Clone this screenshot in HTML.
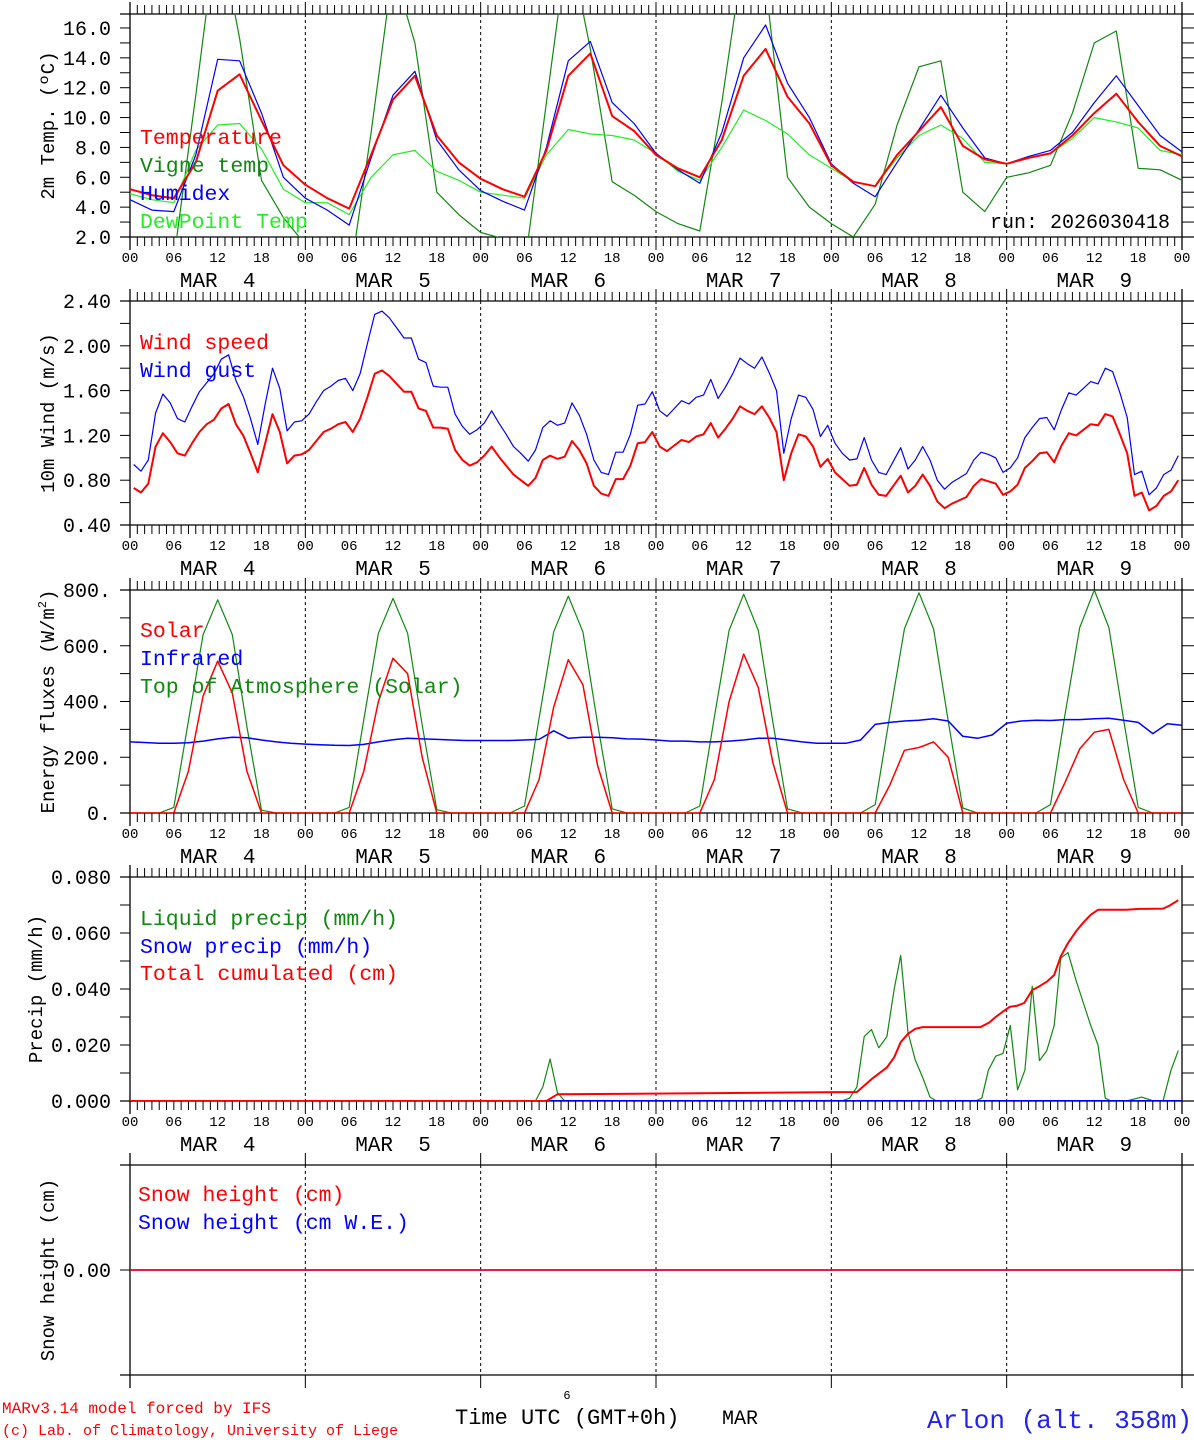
<!DOCTYPE html>
<html><head><meta charset="utf-8"><title>MAR meteogram Arlon</title>
<style>
html,body{margin:0;padding:0;background:#fff;}
svg{display:block;}
text{font-family:"Liberation Mono","DejaVu Sans Mono",monospace;}
</style></head>
<body>
<svg id="chart" xmlns="http://www.w3.org/2000/svg" width="1194" height="1440" viewBox="0 0 1194 1440">
<rect x="0" y="0" width="1194" height="1440" fill="#fff"/>
<g id="g"></g>
<text x="2" y="1413" fill="#ff0000" font-size="16">MARv3.14 model forced by IFS</text>
<text x="2" y="1435" fill="#ff0000" font-size="15">(c) Lab. of Climatology, University of Liege</text>
<text x="567" y="1399" font-size="12" text-anchor="middle">6</text>
<text x="455" y="1424" font-size="22" xml:space="preserve" style="white-space:pre">Time UTC (GMT+0h)</text>
<text x="722" y="1424" font-size="20">MAR</text>
<text x="927" y="1428" fill="#2222ee" font-size="26">Arlon (alt. 358m)</text>
</svg>
<script>
// ---------- DATA ----------
const tempHours = [0,3,6,9,12,15,18,21,24,27,30,33,36,39,42,45,48,51,54,57,60,63,66,69,72,75,78,81,84,87,90,93,96,99,102,105,108,111,114,117,120,123,126,129,132,135,138,141,144];
const temperature = [5.2,4.8,4.6,7.0,11.8,12.9,9.8,6.8, 5.5,4.6,3.9,7.5,11.2,12.8,8.8,7.0, 5.9,5.2,4.7,7.8,12.8,14.3,10.1,9.1, 7.5,6.6,6.0,8.5,12.8,14.6,11.4,9.6, 6.8,5.7,5.4,7.5,9.1,10.7,8.1,7.2, 6.9,7.3,7.6,8.8,10.3,11.6,9.7,8.1, 7.4];
const humidex = [4.5,3.8,3.7,7.5,13.9,13.8,10.3,6.0, 4.6,3.8,2.8,7.3,11.5,13.1,8.5,6.5, 5.1,4.4,3.8,8.0,13.8,15.1,11.0,9.6, 7.6,6.5,5.6,9.0,14.0,16.2,12.3,10.0, 6.9,5.6,4.7,7.0,9.2,11.5,9.3,7.3, 6.9,7.4,7.8,9.0,11.0,12.8,10.8,8.8, 7.7];
const vigneTemp = [-1,-1,0.5,11.5,23,15.3,5.8,3.3, 1.5,0,-1,9,20,15,5,3.5, 2.3,1.9,0,11,22,14.6,5.7,4.8, 3.7,2.9,2.4,11,21,19,6.0,4.0, 2.9,2.0,4.2,9.5,13.4,13.8,5.0,3.7, 6.0,6.3,6.8,10.3,15.0,15.8,6.6,6.5, 5.8];
const dewPoint = [4.9,4.5,4.3,7.8,9.5,9.6,7.9,5.2, 4.3,4.3,3.5,6.0,7.5,7.8,6.4,5.8, 5.0,4.8,4.6,7.5,9.2,8.9,8.8,8.5, 7.6,6.4,5.8,8.0,10.5,9.8,8.9,7.5, 6.6,5.7,5.4,7.3,8.8,9.5,8.6,7.0, 6.9,7.3,7.6,8.6,10.0,9.7,9.3,7.8, 7.5];

const windStartHour = 0.5;
const windSpeed = [0.73,0.69,0.77,1.10,1.22,1.14,1.04,1.02,1.13,1.23,1.30,1.34,1.44,1.48,1.30,1.20,1.04,0.87,1.13,1.39,1.23,0.95,1.02,1.03,
1.07,1.15,1.23,1.26,1.30,1.32,1.23,1.35,1.54,1.75,1.78,1.73,1.66,1.59,1.59,1.44,1.42,1.27,1.27,1.26,1.07,0.98,0.93,0.96,
1.02,1.10,1.01,0.93,0.85,0.80,0.75,0.82,0.98,1.02,0.99,1.01,1.15,1.07,0.95,0.75,0.68,0.66,0.81,0.81,0.93,1.13,1.14,1.23,
1.10,1.06,1.11,1.16,1.14,1.19,1.21,1.31,1.18,1.26,1.35,1.46,1.42,1.39,1.46,1.36,1.23,0.80,1.04,1.21,1.19,1.10,0.92,0.99,
0.87,0.81,0.75,0.76,0.91,0.76,0.67,0.66,0.75,0.84,0.69,0.75,0.85,0.75,0.61,0.55,0.59,0.62,0.65,0.75,0.81,0.79,0.77,0.67,
0.70,0.76,0.91,0.97,1.04,1.05,0.96,1.11,1.22,1.20,1.25,1.30,1.29,1.39,1.37,1.21,1.04,0.66,0.69,0.53,0.57,0.66,0.70,0.80];
const windGust = [0.94,0.88,0.98,1.40,1.57,1.49,1.35,1.32,1.46,1.59,1.67,1.75,1.88,1.92,1.69,1.55,1.35,1.12,1.48,1.80,1.62,1.24,1.32,1.33,
1.39,1.50,1.60,1.64,1.69,1.71,1.60,1.75,2.02,2.28,2.31,2.25,2.16,2.07,2.07,1.88,1.85,1.64,1.63,1.63,1.39,1.28,1.21,1.25,
1.31,1.42,1.31,1.21,1.10,1.04,0.97,1.07,1.27,1.33,1.29,1.31,1.49,1.38,1.21,0.98,0.87,0.85,1.05,1.05,1.21,1.47,1.48,1.59,
1.42,1.37,1.44,1.51,1.48,1.54,1.56,1.70,1.53,1.63,1.75,1.89,1.84,1.80,1.90,1.76,1.60,1.04,1.35,1.56,1.54,1.43,1.19,1.29,
1.13,1.04,0.98,0.99,1.18,0.98,0.87,0.85,0.97,1.09,0.90,0.98,1.10,0.98,0.80,0.72,0.78,0.82,0.86,0.98,1.05,1.03,1.00,0.87,
0.91,1.00,1.18,1.27,1.35,1.36,1.25,1.43,1.58,1.56,1.62,1.68,1.66,1.80,1.77,1.58,1.36,0.85,0.88,0.67,0.73,0.85,0.89,1.02];

const fluxStep = 2;
const solar = [0,0,0,0,150,420,545,430,150,0,0,0,
 0,0,0,0,150,400,555,500,200,0,0,0,
 0,0,0,0,120,380,550,460,170,0,0,0,
 0,0,0,0,120,400,570,450,180,0,0,0,
 0,0,0,0,0,0,0,0,0,0,0,0,
 0,0,0,0,0,0,0,0,0,0,0,0, 0];
const solarDay5 = [0,100,225,235,255,200,0];   // hours 102..114
const solarDay6 = [0,110,230,290,300,120,0];   // hours 126..138
const infrared = [255,253,250,250,252,258,266,272,270,262,255,250,
 247,245,243,242,246,255,263,268,266,264,262,260,
 260,260,260,262,264,295,268,272,272,270,266,265,
 262,258,258,255,255,258,262,268,268,262,255,250,
 250,250,262,318,325,330,333,338,330,275,268,280,
 322,330,333,332,335,335,338,340,333,325,285,320, 315];
const toaSolar = [0,0,0,20,330,640,765,640,310,10,0,0,
 0,0,0,20,335,645,770,645,315,12,0,0,
 0,0,0,25,340,650,778,650,320,15,0,0,
 0,0,0,25,345,655,785,655,325,15,0,0,
 0,0,0,30,350,660,790,660,330,18,0,0,
 0,0,0,30,355,665,800,665,335,20,0,0, 0];

const liqHours = [0,55.5,56.5,57.5,58.5,59.5,97.4,98.5,99.5,100.5,101.5,102.5,103.6,104.6,105.5,106.5,107.5,108.5,109.5,110.4,115.7,116.6,117.5,118.5,119.5,120.5,121.5,122.5,123.5,124.5,125.5,126.5,127.4,128.4,129.5,130.5,131.5,132.5,133.5,134.3,136.4,138.5,140.1,141.4,142.5,143.5];
const liqPrecip = [0,0,0.005,0.015,0.003,0,0,0.001,0.005,0.023,0.0255,0.019,0.023,0.040,0.052,0.0245,0.0146,0.0084,0.0014,0,0,0.001,0.011,0.016,0.017,0.027,0.004,0.011,0.041,0.0144,0.018,0.027,0.051,0.053,0.043,0.035,0.027,0.020,0.001,0,0,0.0014,0,0,0.011,0.018];
const snowHours = [0,144];
const snowPrecip = [0,0];
const cumHours = [0,57,58.5,99.5,101.5,103.6,104.6,105.5,106.5,107.5,108.5,116.4,117.6,118.5,119.4,120.4,121.4,122.4,123.5,124.5,125.5,126.5,127.4,128.4,129.5,130.5,131.5,132.5,136.4,138.2,141.4,142.3,143.5];
const cumPrecip = [0,0,0.0024,0.0032,0.0078,0.012,0.0156,0.021,0.024,0.0258,0.0264,0.0264,0.028,0.030,0.0318,0.0336,0.034,0.035,0.0396,0.041,0.0426,0.045,0.0516,0.0564,0.0606,0.0638,0.0665,0.0683,0.0683,0.0686,0.0687,0.0698,0.0717];
const snowHeight = [0,0];
const snowHeightWE = [0,0];

const dayLabels = ["MAR  4","MAR  5","MAR  6","MAR  7","MAR  8","MAR  9"];
const hourLabels = ["00","06","12","18"];
const ticks1 = [2,4,6,8,10,12,14,16], tickLab1 = ["2.0","4.0","6.0","8.0","10.0","12.0","14.0","16.0"];
const ticks2 = [0.4,0.8,1.2,1.6,2.0,2.4], tickLab2 = ["0.40","0.80","1.20","1.60","2.00","2.40"];
const ticks3 = [0,200,400,600,800], tickLab3 = ["0.","200.","400.","600.","800."];
const ticks4 = [0,0.02,0.04,0.06,0.08], tickLab4 = ["0.000","0.020","0.040","0.060","0.080"];
const ticks5 = [0], tickLab5 = ["0.00"];

// ---------- LAYOUT ----------
const NS="http://www.w3.org/2000/svg";
const G=document.getElementById('g');
const X0=130, X1=1182, HMAX=144;
function xh(h){return X0+(X1-X0)*h/HMAX;}
function mk(tag,attrs,parent){const e=document.createElementNS(NS,tag);for(const k in attrs)e.setAttribute(k,attrs[k]);(parent||G).appendChild(e);return e;}
function yv(p,v){return p.bottom-(v-p.vmin)/(p.vmax-p.vmin)*(p.bottom-p.top);}

const panels=[
 {id:'temp',top:14,bottom:237,vmin:2,vmax:2+223/14.93,minor:1,ticks:ticks1,labs:tickLab1,title:'2m Temp. (\u00baC)',tx:54,hours:true},
 {id:'wind',top:301,bottom:525,vmin:0.4,vmax:2.4,minor:0.2,ticks:ticks2,labs:tickLab2,title:'10m Wind (m/s)',tx:54,hours:true},
 {id:'flux',top:590,bottom:813,vmin:0,vmax:800,minor:100,ticks:ticks3,labs:tickLab3,title:'Energy fluxes (W/m',tx:54,hours:true,sup:true},
 {id:'precip',top:877,bottom:1101,vmin:0,vmax:0.08,minor:0.01,ticks:ticks4,labs:tickLab4,title:'Precip (mm/h)',tx:42,hours:true},
 {id:'snow',top:1165,bottom:1375,vmin:-1,vmax:1,minor:null,ticks:ticks5,labs:tickLab5,title:'Snow height (cm)',tx:54,hours:false}
];

panels.forEach((p,pi)=>{
 const g=mk('g',{});
 
 
 const cp=mk('clipPath',{id:'clip'+pi},g);
 mk('rect',{x:X0,y:p.top,width:X1-X0,height:p.bottom-p.top},cp);
 // day dashed lines
 for(let d=1;d<6;d++){
  const l=mk('line',{x1:xh(d*24),x2:xh(d*24),y1:p.top,y2:p.bottom,stroke:'#000','stroke-width':1,'stroke-dasharray':'3,3'},g);
  
  
 }
 // frame
 mk('line',{x1:120,x2:1194,y1:p.top,y2:p.top,stroke:'#000','stroke-width':1.3},g);
 mk('line',{x1:120,x2:1194,y1:p.bottom,y2:p.bottom,stroke:'#000','stroke-width':1.3},g);
 mk('line',{x1:X0,x2:X0,y1:p.top-12,y2:p.bottom+13,stroke:'#000','stroke-width':1.3},g);
 mk('line',{x1:X1,x2:X1,y1:p.top-12,y2:p.bottom+13,stroke:'#000','stroke-width':1.3},g);
 // x ticks
 for(let h=0;h<=HMAX;h++){
  const isDay=h%24===0;
  if(!p.hours && !isDay) continue;
  const x=xh(h);
  mk('line',{x1:x,x2:x,y1:p.top-(isDay?12:9),y2:p.top,stroke:'#000','stroke-width':1},g);
  mk('line',{x1:x,x2:x,y1:p.bottom,y2:p.bottom+(isDay?13:9),stroke:'#000','stroke-width':1},g);
 }
 // y ticks
 const tv=[];
 if(p.minor){for(let v=p.vmin;v<=p.vmax+1e-9;v+=p.minor)tv.push(v);} else tv.push(...p.ticks);
 tv.forEach(v=>{const y=yv(p,v);
  mk('line',{x1:120,x2:X0,y1:y,y2:y,stroke:'#000','stroke-width':1},g);
  mk('line',{x1:X1,x2:1194,y1:y,y2:y,stroke:'#000','stroke-width':1},g);});
 p.ticks.forEach((v,i)=>{
  const t=mk('text',{x:111,y:yv(p,v)+7,'font-size':20,'text-anchor':'end'},g);
  
  
  t.textContent=p.labs[i];});
 // y title
 const tt=mk('text',{transform:`translate(${p.tx},${(p.top+p.bottom)/2}) rotate(-90)`,'font-size':19,'text-anchor':'middle'},g);
 
 
 tt.textContent=p.title;
 if(p.sup){const s=mk('tspan',{'font-size':12,dy:-8},tt);s.textContent='2';const s2=mk('tspan',{dy:8},tt);s2.textContent=')';}
 // hour labels
 if(p.hours){
  for(let h=0;h<=HMAX;h+=6){
   const t=mk('text',{x:xh(h),y:p.bottom+25,'font-size':14,'text-anchor':'middle'},g);
   
   
   t.textContent=hourLabels[(h/6)%4];
  }
  dayLabels.forEach((d,i)=>{
   const t=mk('text',{x:xh(i*24+12),y:p.bottom+50,'font-size':21,'text-anchor':'middle','xml:space':'preserve',style:'white-space:pre'},g);
   
   
   t.textContent=d;});
 }
 p.g=g;
});

function line(pi,hours,vals,color,w,name){
 const p=panels[pi];
 const pts=hours.map((h,i)=>xh(h).toFixed(1)+','+yv(p,vals[i]).toFixed(1)).join(' ');
 const e=mk('polyline',{points:pts,fill:'none',stroke:color,'stroke-width':w,'clip-path':`url(#clip${pi})`,'stroke-linejoin':'round'},p.g);
 
 
}
function legend(pi,x,y,text,color,name){
 const t=mk('text',{x:x,y:y,'font-size':21.5,fill:color,'xml:space':'preserve',style:'white-space:pre'},panels[pi].g);
 
 
 t.textContent=text;
}

// panel 1
line(0,tempHours,vigneTemp,'#118811',1.2,'vigne-temp-line');
line(0,tempHours,dewPoint,'#22ee22',1.2,'dewpoint-line');
line(0,tempHours,humidex,'#0000ff',1.2,'humidex-line');
line(0,tempHours,temperature,'#ff0000',2,'temperature-line');
legend(0,140,144,'Temperature','#ff0000','legend-temperature');
legend(0,140,172,'Vigne temp','#118811','legend-vigne-temp');
legend(0,140,200,'Humidex','#0000ff','legend-humidex');
legend(0,140,228,'DewPoint Temp','#22ee22','legend-dewpoint');
{const t=mk('text',{x:1170,y:228,'font-size':20,'text-anchor':'end'},panels[0].g);
 
 
 t.textContent='run: 2026030418';}

// panel 2
const windHours = windSpeed.map((_,i)=>windStartHour+i);
line(1,windHours,windGust,'#0000ff',1.2,'wind-gust-line');
line(1,windHours,windSpeed,'#ff0000',2,'wind-speed-line');
legend(1,140,349,'Wind speed','#ff0000','legend-wind-speed');
legend(1,140,377,'Wind gust','#0000ff','legend-wind-gust');

// panel 3
const fluxHours = toaSolar.map((_,i)=>i*fluxStep);
const solarAll = solar.slice();
solarDay5.forEach((v,i)=>{solarAll[51+i]=v;});
solarDay6.forEach((v,i)=>{solarAll[63+i]=v;});
line(2,fluxHours,toaSolar,'#118811',1.2,'toa-solar-line');
line(2,fluxHours,infrared,'#0000ff',1.5,'infrared-line');
line(2,fluxHours,solarAll,'#ff0000',1.5,'solar-line');
legend(2,140,637,'Solar','#ff0000','legend-solar');
legend(2,140,665,'Infrared','#0000ff','legend-infrared');
legend(2,140,693,'Top of Atmosphere (Solar)','#118811','legend-toa');

// panel 4
line(3,liqHours,liqPrecip,'#118811',1.2,'liquid-precip-line');
line(3,snowHours,snowPrecip,'#0000ff',2,'snow-precip-line');
line(3,cumHours,cumPrecip,'#ff0000',2,'cumulated-precip-line');
legend(3,140,925,'Liquid precip (mm/h)','#118811','legend-liquid');
legend(3,140,953,'Snow precip (mm/h)','#0000ff','legend-snow-precip');
legend(3,140,980,'Total cumulated (cm)','#ff0000','legend-cumulated');

// panel 5
line(4,snowHours,snowHeightWE,'#0000ff',1.5,'snow-height-we-line');
line(4,snowHours,snowHeight,'#ff0000',1.5,'snow-height-line');
legend(4,138,1201,'Snow height (cm)','#ff0000','legend-snow-height');
legend(4,138,1229,'Snow height (cm W.E.)','#0000ff','legend-snow-we');
</script>
</body></html>
